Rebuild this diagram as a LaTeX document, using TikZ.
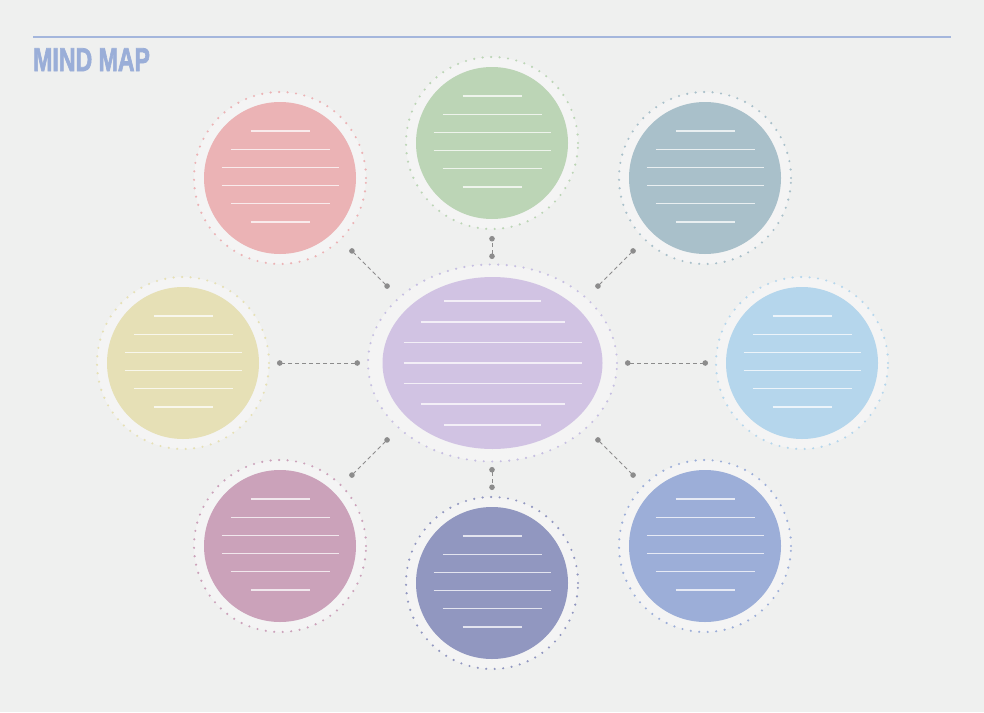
\documentclass[tikz,border=0pt]{standalone}
\usepackage{fontspec}
\usepackage{graphicx}
\usepackage{xcolor}
\setmainfont{Liberation Sans}
\newfontfamily\titlefont{Liberation Sans}[UprightFont=* Bold, FakeBold=2.5]
\usetikzlibrary{shapes.geometric,arrows.meta}
\definecolor{bgColor}{RGB}{239,240,239}
\definecolor{titleColor}{RGB}{154,174,216}
\definecolor{pinkColor}{RGB}{235,179,181}
\definecolor{greenColor}{RGB}{188,213,182}
\definecolor{steelColor}{RGB}{169,192,202}
\definecolor{yellowColor}{RGB}{230,224,182}
\definecolor{skyColor}{RGB}{181,214,236}
\definecolor{mauveColor}{RGB}{203,162,186}
\definecolor{navyColor}{RGB}{145,151,192}
\definecolor{periColor}{RGB}{156,174,216}
\definecolor{lavenderColor}{RGB}{209,195,227}
\definecolor{linkColor}{RGB}{140,140,140}

% six blank writing lines inside a bubble
\newcommand{\bubblelines}[1]{%
  \foreach \dy/\w in {-47/29.5, -28.7/49.5, -10.5/58.5, 7.5/58.5, 25.7/49.5, 44/29.5}
    \draw[textline] ([shift={(-\w,\dy)}]#1.center) -- ([shift={(\w,\dy)}]#1.center);
}

\begin{document}
\begin{tikzpicture}[x=1pt, y=-1pt,
    bubble/.style={circle, minimum size=152pt, inner sep=0pt},
    ring/.style={circle, minimum size=172pt, inner sep=0pt, fill=bgColor!70!white,
      dash pattern=on 0pt off 8.5pt, line cap=round, line width=2.4pt},
    textline/.style={draw=white, opacity=0.75, line width=1.3pt},
    link/.style={{Circle[length=5.5pt]}-{Circle[length=5.5pt]}, draw=linkColor,
      dash pattern=on 4pt off 3pt, line width=1pt}]
    \fill[bgColor] (0,0) rectangle (984,712);
    \useasboundingbox (0,0) rectangle (984,712);

    % header
    \draw[titleColor!90!white, line width=1.5pt] (33,37) -- (951,37);
    \node[anchor=base west, inner sep=0pt, text=titleColor] (title) at (33,71)
        {\scalebox{0.7}[1]{\titlefont\fontsize{33}{33}\selectfont MIND MAP}};

    % centre topic
    \node[ellipse, minimum width=249pt, minimum height=197pt, inner sep=0pt, fill=bgColor!70!white,
          draw=lavenderColor!80!periColor, dash pattern=on 0pt off 8.5pt, line cap=round, line width=2.4pt] (centerRing) at (492.5,363) {};
    \node[ellipse, minimum width=220pt, minimum height=172pt, inner sep=0pt, fill=lavenderColor] (center) at (492.5,363) {};
    \foreach \dy/\w in {-62/48.5, -41/72, -20.5/89, 0/89, 20.5/89, 41/72, 62/48.5}
        \draw[textline] ([shift={(-\w,\dy)}]center.center) -- ([shift={(\w,\dy)}]center.center);

    % branches
    \node[ring, draw=pinkColor] (pinkRing) at (280,178) {};
    \node[bubble, fill=pinkColor] (pink) at (280,178) {};
    \bubblelines{pink}
    \node[ring, draw=greenColor] (greenRing) at (492,143) {};
    \node[bubble, fill=greenColor] (green) at (492,143) {};
    \bubblelines{green}
    \node[ring, draw=steelColor] (steelRing) at (705,178) {};
    \node[bubble, fill=steelColor] (steel) at (705,178) {};
    \bubblelines{steel}
    \node[ring, draw=yellowColor] (yellowRing) at (183,363) {};
    \node[bubble, fill=yellowColor] (yellow) at (183,363) {};
    \bubblelines{yellow}
    \node[ring, draw=skyColor] (skyRing) at (802,363) {};
    \node[bubble, fill=skyColor] (sky) at (802,363) {};
    \bubblelines{sky}
    \node[ring, draw=mauveColor] (mauveRing) at (280,546) {};
    \node[bubble, fill=mauveColor] (mauve) at (280,546) {};
    \bubblelines{mauve}
    \node[ring, draw=navyColor] (navyRing) at (492,583) {};
    \node[bubble, fill=navyColor] (navy) at (492,583) {};
    \bubblelines{navy}
    \node[ring, draw=periColor] (periRing) at (705,546) {};
    \node[bubble, fill=periColor] (peri) at (705,546) {};
    \bubblelines{peri}

    % connector ends
    \coordinate (cNW) at (389,288);   \coordinate (pinkEnd) at (350,249);
    \coordinate (cN) at (492,259);    \coordinate (greenEnd) at (492,236);
    \coordinate (cNE) at (596,288);   \coordinate (steelEnd) at (635,249);
    \coordinate (cW) at (360,363);    \coordinate (yellowEnd) at (277,363);
    \coordinate (cE) at (625,363);    \coordinate (skyEnd) at (708,363);
    \coordinate (cSW) at (389,438);   \coordinate (mauveEnd) at (350,477);
    \coordinate (cS) at (492,467);    \coordinate (navyEnd) at (492,490);
    \coordinate (cSE) at (596,438);   \coordinate (periEnd) at (635,477);

    \draw[link] (cNW) -- (pinkEnd);
    \draw[link] (cN) -- (greenEnd);
    \draw[link] (cNE) -- (steelEnd);
    \draw[link] (cW) -- (yellowEnd);
    \draw[link] (cE) -- (skyEnd);
    \draw[link] (cSW) -- (mauveEnd);
    \draw[link] (cS) -- (navyEnd);
    \draw[link] (cSE) -- (periEnd);
\end{tikzpicture}
\end{document}
